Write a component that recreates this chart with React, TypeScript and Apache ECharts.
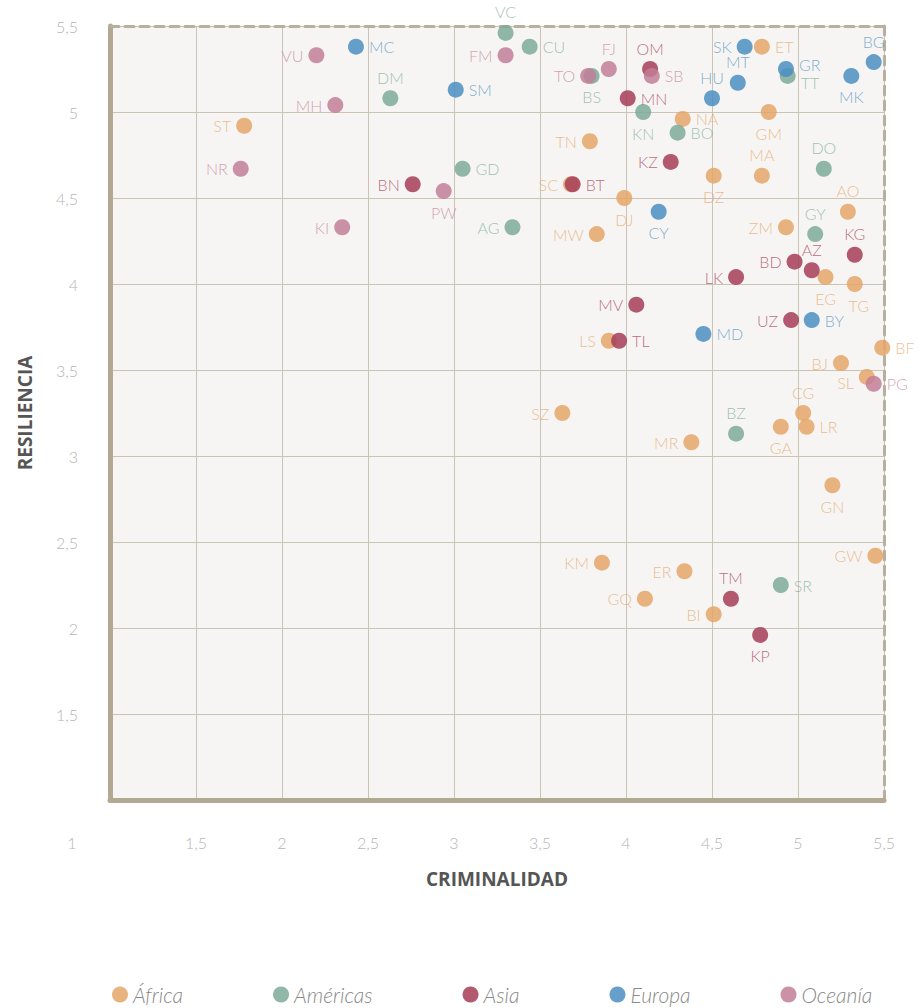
import React, { useEffect, useRef } from "react";
import * as echarts from "echarts";

const regions = ["África", "Américas", "Asia", "Europa", "Oceanía"];

const africa: [string, number, number][] = [
  ["ST", 1.78, 4.92], ["SC", 3.68, 4.58], ["TN", 3.79, 4.83], ["DJ", 3.99, 4.5],
  ["MW", 3.83, 4.29], ["NA", 4.33, 4.96], ["ET", 4.79, 5.38], ["GM", 4.83, 5.0],
  ["MA", 4.79, 4.63], ["DZ", 4.51, 4.63], ["AO", 5.29, 4.42], ["ZM", 4.93, 4.33],
  ["EG", 5.16, 4.04], ["TG", 5.33, 4.0], ["LS", 3.9, 3.67], ["BF", 5.49, 3.63],
  ["BJ", 5.25, 3.54], ["SL", 5.4, 3.46], ["CG", 5.03, 3.25], ["LR", 5.05, 3.17],
  ["GA", 4.9, 3.17], ["MR", 4.38, 3.08], ["SZ", 3.63, 3.25], ["GN", 5.2, 2.83],
  ["GW", 5.45, 2.42], ["KM", 3.86, 2.38], ["ER", 4.34, 2.33], ["GQ", 4.11, 2.17],
  ["BI", 4.51, 2.08],
];

const americas: [string, number, number][] = [
  ["DM", 2.63, 5.08], ["GD", 3.05, 4.67], ["AG", 3.34, 4.33], ["VC", 3.3, 5.46],
  ["CU", 3.44, 5.38], ["BS", 3.8, 5.21], ["KN", 4.1, 5.0], ["BO", 4.3, 4.88],
  ["TT", 4.94, 5.21], ["DO", 5.15, 4.67], ["GY", 5.1, 4.29], ["BZ", 4.64, 3.13],
  ["SR", 4.9, 2.25],
];

const asia: [string, number, number][] = [
  ["BN", 2.76, 4.58], ["OM", 4.14, 5.25], ["MN", 4.01, 5.08], ["KZ", 4.26, 4.71],
  ["BT", 3.69, 4.58], ["KG", 5.33, 4.17], ["BD", 4.98, 4.13], ["AZ", 5.08, 4.08],
  ["LK", 4.64, 4.04], ["MV", 4.06, 3.88], ["UZ", 4.96, 3.79], ["TL", 3.96, 3.67],
  ["TM", 4.61, 2.17], ["KP", 4.78, 1.96],
];

const europa: [string, number, number][] = [
  ["MC", 2.43, 5.38], ["SM", 3.01, 5.13], ["CY", 4.19, 4.42], ["SK", 4.69, 5.38],
  ["MT", 4.65, 5.17], ["HU", 4.5, 5.08], ["GR", 4.93, 5.25], ["BG", 5.44, 5.29],
  ["MK", 5.31, 5.21], ["BY", 5.08, 3.79], ["MD", 4.45, 3.71],
];

const oceania: [string, number, number][] = [
  ["VU", 2.2, 5.33], ["MH", 2.31, 5.04], ["NR", 1.76, 4.67], ["PW", 2.94, 4.54],
  ["KI", 2.35, 4.33], ["FM", 3.3, 5.33], ["TO", 3.78, 5.21], ["FJ", 3.9, 5.25],
  ["SB", 4.15, 5.21], ["PG", 5.44, 3.42],
];

const axisTicks = [1, 1.5, 2, 2.5, 3, 3.5, 4, 4.5, 5, 5.5];

const leftLabels = ["VU", "MH", "ST", "NR", "BN", "KI", "AG", "FM", "TO", "TN", "KZ", "SC", "MW", "SK", "ZM", "LK", "MV", "UZ", "LS", "BJ", "MR", "SZ", "GW", "KM", "ER", "GQ", "BI", "BD", "SL"];
const topLabels = ["VC", "DM", "FJ", "OM", "MT", "HU", "BG", "DO", "MA", "AO", "GY", "KG", "AZ", "CG", "BZ", "TM"];
const bottomLabels = ["PW", "BS", "KN", "DJ", "CY", "GM", "MK", "DZ", "EG", "TG", "GA", "GN", "KP"];
const labelOffsets: Record<string, number[]> = { SL: [0, 6], TT: [0, 7], TG: [4, 0], GR: [0, -5] };

const colors = ["#e5a66a", "#7daa98", "#a63d57", "#4b8ec0", "#c27e97"];
const labelColors = [
  "rgba(229,166,106,0.85)",
  "rgba(125,170,152,0.85)",
  "rgba(166,61,87,0.9)",
  "rgba(75,142,192,0.85)",
  "rgba(194,126,151,0.85)",
];

function side(code: string): string {
  if (leftLabels.includes(code)) return "left";
  if (topLabels.includes(code)) return "top";
  if (bottomLabels.includes(code)) return "bottom";
  return "right";
}

const fmt = (v: number) => String(v).replace(".", ",");

export default function App() {
  const ref = useRef<HTMLDivElement>(null);
  useEffect(() => {
    document.body.style.margin = "0";
    const chart = echarts.init(ref.current!, null, { renderer: "svg" });
    const groups = [africa, americas, asia, europa, oceania];
    const tickFont = { color: "#b5b5b5", fontSize: 16, fontFamily: "Lato", fontWeight: 300 };
    const series: any[] = groups.map((g, i) => ({
      type: "scatter",
      name: regions[i],
      symbolSize: 16,
      itemStyle: { color: colors[i], opacity: 0.85 },
      label: {
        show: true,
        formatter: "{b}",
        distance: 5,
        color: labelColors[i],
        fontSize: 16,
        fontFamily: "Lato",
        fontWeight: 300,
      },
      emphasis: { disabled: true },
      data: g.map(([c, x, y]) => ({
        name: c,
        value: [x, y],
        label: { position: side(c), offset: labelOffsets[c] || [0, 0] },
      })),
    }));
    chart.setOption({
      animation: false,
      grid: {
        left: 110,
        right: 36,
        top: 26,
        bottom: 208,
        show: true,
        backgroundColor: "#f6f5f3",
        borderWidth: 0,
      },
      legend: {
        data: regions,
        left: 107,
        top: 979,
        icon: "circle",
        itemWidth: 16,
        itemHeight: 16,
        itemGap: 90,
        textStyle: {
          color: "#8a8a8a",
          fontSize: 21,
          fontStyle: "italic",
          fontFamily: "Lato",
          fontWeight: 300,
        },
        selectedMode: false,
      },
      xAxis: [
        {
          type: "value",
          min: axisTicks[0],
          max: axisTicks[axisTicks.length - 1],
          interval: 0.5,
          name: "CRIMINALIDAD",
          nameLocation: "middle",
          nameGap: 69,
          nameTextStyle: { color: "#555", fontSize: 19, fontWeight: "bold", fontFamily: "Open Sans" },
          axisLine: { show: true, onZero: false, lineStyle: { color: "#b3a992", width: 5 } },
          axisTick: { show: false },
          axisLabel: {
            margin: 34,
            showMinLabel: true,
            showMaxLabel: true,
            ...tickFont,
            formatter: (v: number) => (v === axisTicks[0] ? "{first|" + fmt(v) + "}" : fmt(v)),
            rich: { first: { ...tickFont, padding: [0, 76, 0, 0] } },
          },
          splitLine: { show: true, lineStyle: { color: "#cbc4b5", width: 1 } },
        },
        {
          type: "value",
          position: "top",
          min: axisTicks[0],
          max: axisTicks[axisTicks.length - 1],
          interval: 0.5,
          axisLine: { show: true, onZero: false, lineStyle: { color: "#b8b09f", width: 3, type: [9, 6] } },
          axisTick: { show: false },
          axisLabel: { show: false },
          splitLine: { show: false },
        },
      ],
      yAxis: [
        {
          type: "value",
          min: axisTicks[0],
          max: axisTicks[axisTicks.length - 1],
          interval: 0.5,
          name: "RESILIENCIA",
          nameLocation: "middle",
          nameGap: 76,
          nameRotate: 90,
          nameTextStyle: { color: "#555", fontSize: 19, fontWeight: "bold", fontFamily: "Open Sans" },
          axisLine: { show: true, onZero: false, lineStyle: { color: "#b3a992", width: 5 } },
          axisTick: { show: false },
          axisLabel: {
            margin: 32,
            ...tickFont,
            formatter: (v: number) => (v === axisTicks[0] ? "" : fmt(v)),
          },
          splitLine: { show: true, lineStyle: { color: "#cbc4b5", width: 1 } },
        },
        {
          type: "value",
          position: "right",
          min: axisTicks[0],
          max: axisTicks[axisTicks.length - 1],
          interval: 0.5,
          axisLine: { show: true, onZero: false, lineStyle: { color: "#b8b09f", width: 3, type: [9, 6] } },
          axisTick: { show: false },
          axisLabel: { show: false },
          splitLine: { show: false },
        },
      ],
      series,
    });
    return () => chart.dispose();
  }, []);
  return <div ref={ref} style={{ width: 920, height: 1008 }} />;
}
